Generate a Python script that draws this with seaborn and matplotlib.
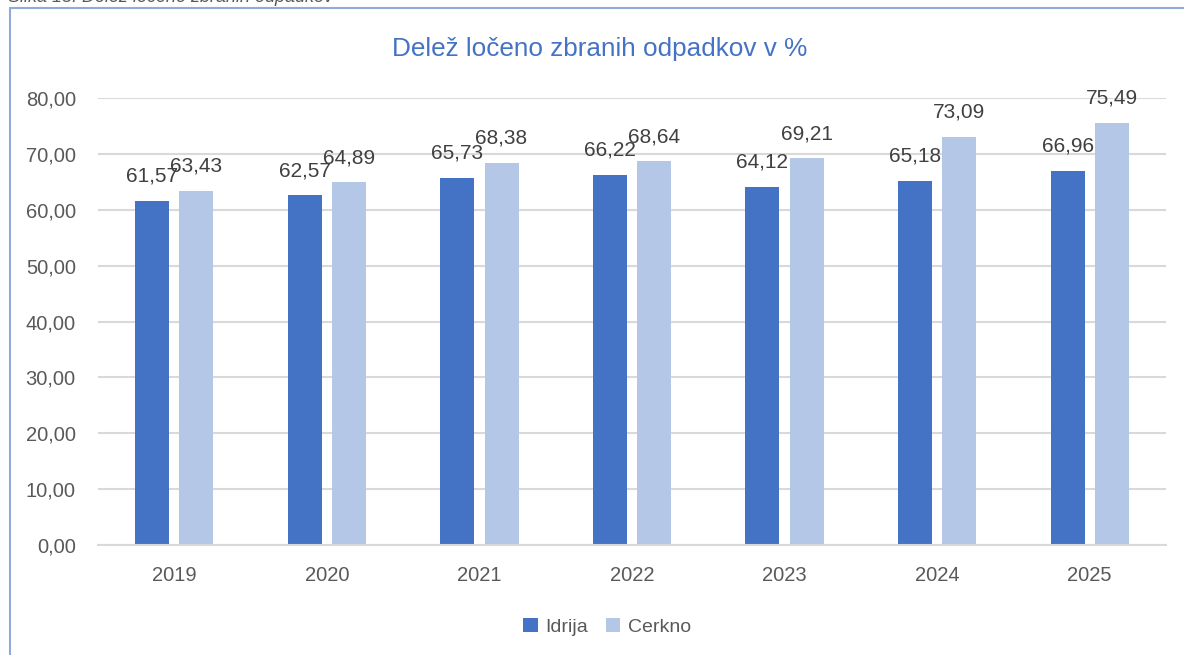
import matplotlib
matplotlib.use("Agg")
import matplotlib.pyplot as plt
import matplotlib.patches as mpatches
from matplotlib.ticker import FuncFormatter, MultipleLocator
import seaborn as sns
import pandas as pd

years = ["2019", "2020", "2021", "2022", "2023", "2024", "2025"]
idrija = [61.57, 62.57, 65.73, 66.22, 64.12, 65.18, 66.96]
cerkno = [63.43, 64.89, 68.38, 68.64, 69.21, 73.09, 75.49]
series = ["Idrija", "Cerkno"]
colors = ["#4472C4", "#B4C7E7"]

df = pd.DataFrame({
    "leto": years * 2,
    "vrednost": idrija + cerkno,
    "obcina": [series[0]] * len(years) + [series[1]] * len(years),
})

sns.set_style("white")
plt.rcParams["font.family"] = ["Liberation Sans", "DejaVu Sans"]

fig = plt.figure(figsize=(11.84, 6.55), dpi=100)
ax = fig.add_axes([98 / 1184, 1 - 545 / 655, (1166 - 98) / 1184, (545 - 98) / 655])

sns.barplot(data=df, x="leto", y="vrednost", hue="obcina", palette=colors,
            width=0.58, gap=0.23, ax=ax, saturation=1, legend=True, edgecolor="none")

ax.set_ylim(0, 80)
ax.yaxis.set_major_locator(MultipleLocator(10))
ax.yaxis.set_major_formatter(FuncFormatter(lambda v, p: f"{v:.2f}".replace(".", ",")))
ax.grid(axis="y", color="#D9D9D9", linewidth=1.5)
ax.set_axisbelow(True)
for s in ["top", "right", "left"]:
    ax.spines[s].set_visible(False)
ax.spines["bottom"].set_color("#D9D9D9")
ax.spines["bottom"].set_linewidth(1.5)
ax.set_xlabel("")
ax.set_ylabel("")
ax.tick_params(axis="both", length=0, labelsize=14.5, labelcolor="#595959")
ax.tick_params(axis="x", pad=15)
ax.tick_params(axis="y", pad=16)

for cont, vals in zip(ax.containers, [idrija, cerkno]):
    ax.bar_label(cont, labels=[f"{v:.2f}".replace(".", ",") for v in vals],
                 padding=11, fontsize=15, color="#404040")

fig.text(600 / 1184, 1 - 49 / 655, "Delež ločeno zbranih odpadkov v %", fontsize=18.8,
         color="#4472C4", ha="center", va="center")

handles, labels = ax.get_legend_handles_labels()
ax.legend(handles, labels, loc="center", bbox_to_anchor=(607 / 1184, 1 - 627 / 655),
          bbox_transform=fig.transFigure, ncol=2, frameon=False, fontsize=14,
          handlelength=0.75, handleheight=0.75, handletextpad=0.4, columnspacing=0.9,
          labelcolor="#595959")

# chart frame
fig.patches.append(mpatches.Rectangle((10 / 1184, -0.2), 1.3, 0.2 + (655 - 8) / 655,
                                      transform=fig.transFigure, fill=False,
                                      edgecolor="#8FAADC", linewidth=1.5))
# cut-off caption
fig.text(8 / 1184, 1 - 2 / 655, "Slika 15: Delež ločeno zbranih odpadkov", fontsize=13,
         style="italic", color="#595959", va="baseline", ha="left")

fig.savefig("out.png", dpi=100)
